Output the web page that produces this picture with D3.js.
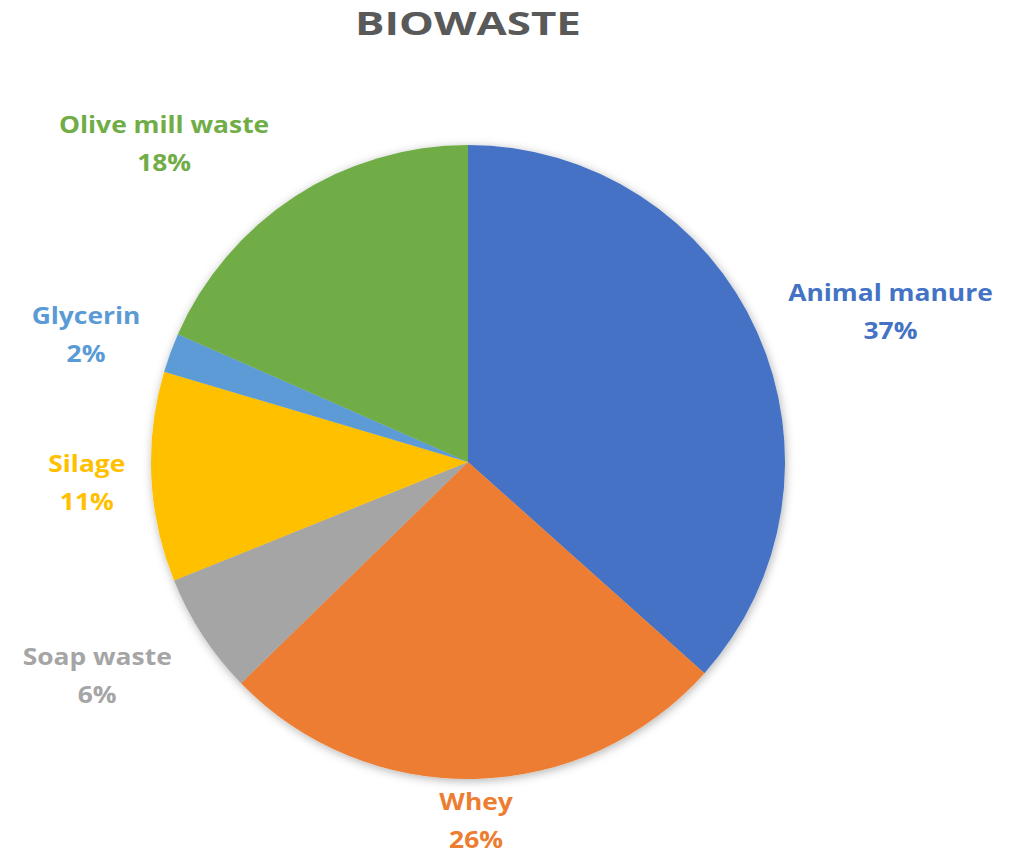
<!DOCTYPE html>
<html>
<head>
<meta charset="utf-8">
<script src="https://cdn.jsdelivr.net/npm/d3@7"></script>
<style>
  body { margin: 0; background: #fff; }
  text { font-family: "Open Sans", sans-serif; font-weight: bold; }
</style>
</head>
<body>
<div id="chart"></div>
<script>
var svgWidth = 1022;
var svgHeight = 853;

// data (share of biowaste)
var categories = ["Animal manure", "Whey", "Soap waste", "Silage", "Glycerin", "Olive mill waste"];
var shares = [36.6, 26.1, 6.2, 10.7, 2.0, 18.4];
var colors = ["#4472C4", "#ED7D31", "#A5A5A5", "#FFC000", "#5B9BD5", "#70AD47"];

var cx = 468, cy = 462, radius = 317;
// hand nudges for the data labels (Excel best-fit placement)
var labelNudge = [[40, 21], [0, -10], [-38, -4], [-6, 3], [-11, 9], [-99, -4]];

var svg = d3.select("#chart")
    .append("svg")
    .attr("width", svgWidth)
    .attr("height", svgHeight);

var defs = svg.append("defs");
var shadow = defs.append("filter")
    .attr("id", "shadow")
    .attr("x", "-20%").attr("y", "-20%")
    .attr("width", "140%").attr("height", "140%");
shadow.append("feDropShadow")
    .attr("dx", 1).attr("dy", 2)
    .attr("stdDeviation", 5)
    .attr("flood-color", "#000")
    .attr("flood-opacity", 0.3);

// title (Calibri-like look is wider, so stretch a bit)
svg.append("text")
    .attr("transform", `translate(${cx}, 35) scale(1.33, 1)`)
    .attr("text-anchor", "middle")
    .attr("font-size", "33px")
    .attr("fill", "#595959")
    .text("BIOWASTE");

var total = d3.sum(shares);
var data = categories.map(function (c, i) {
    return { name: c, value: shares[i], color: colors[i] };
});

var pie = d3.pie()
    .sort(null)
    .value(d => d.value);

var arc = d3.arc()
    .innerRadius(0)
    .outerRadius(radius);

var chartGroup = svg.append("g")
    .attr("transform", `translate(${cx}, ${cy})`);

var arcs = pie(data);

chartGroup.append("g")
    .attr("filter", "url(#shadow)")
    .selectAll("path")
    .data(arcs)
    .enter()
    .append("path")
    .attr("d", arc)
    .attr("fill", d => d.data.color);

var pct = d3.format(".0%");
var lineGap = 38;

var labels = chartGroup.append("g")
    .selectAll("g")
    .data(arcs)
    .enter()
    .append("g");

labels.append("text")
    .attr("transform", `translate(0, ${-lineGap / 2 + 8.5}) scale(1.1, 1)`)
    .attr("text-anchor", "middle")
    .attr("font-size", "24px")
    .attr("fill", d => d.data.color)
    .text(d => d.data.name);

labels.append("text")
    .attr("transform", `translate(0, ${lineGap / 2 + 8.5}) scale(1.1, 1)`)
    .attr("text-anchor", "middle")
    .attr("font-size", "24px")
    .attr("fill", d => d.data.color)
    .text(d => pct(d.data.value / total));

// place each label box just outside the rim along the slice's middle angle
labels.each(function (d, i) {
    var g = d3.select(this);
    var box = this.getBBox();
    var a = (d.startAngle + d.endAngle) / 2;
    var s = Math.sin(a), c = -Math.cos(a);
    var gap = 16;
    var w = box.width / 2 + 4, h = box.height / 2;
    var edge = Math.min(Math.abs(s) > 1e-6 ? w / Math.abs(s) : Infinity,
                        Math.abs(c) > 1e-6 ? h / Math.abs(c) : Infinity);
    var dist = radius + gap + edge;
    var x = s * dist + labelNudge[i][0];
    var y = c * dist + labelNudge[i][1];
    g.attr("transform", `translate(${x}, ${y})`);
});
</script>
</body>
</html>
